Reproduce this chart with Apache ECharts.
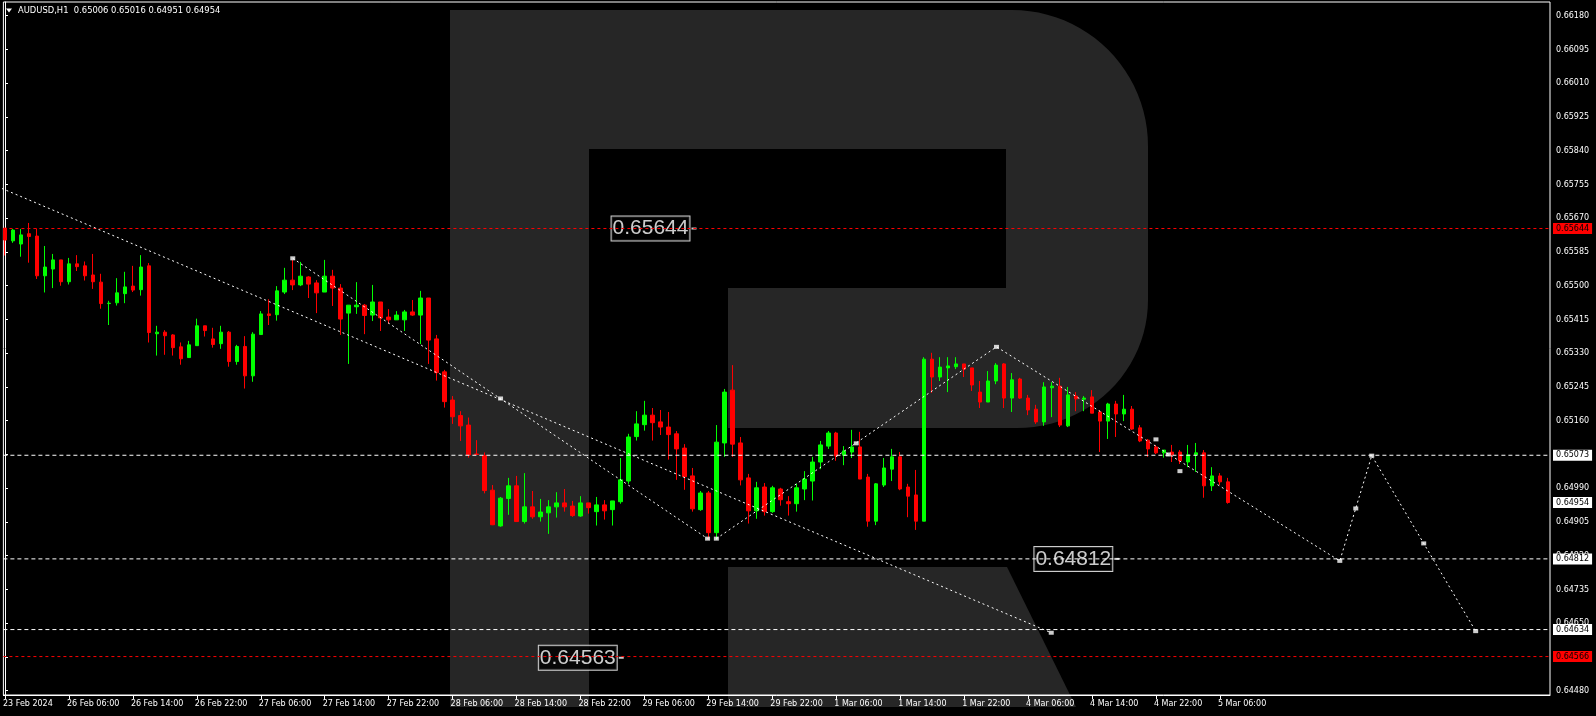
<!DOCTYPE html>
<html><head><meta charset="utf-8">
<script src="https://cdn.jsdelivr.net/npm/echarts@6/dist/echarts.min.js"></script>
<style>html,body{margin:0;padding:0;background:#000;}#c{width:1596px;height:716px;}</style>
</head><body><div id="c"></div>
<script>
const titleText = 'AUDUSD,H1  0.65006 0.65016 0.64951 0.64954';

const openP = [0.65645,0.65613,0.65605,0.65631,0.65625,0.65525,0.65542,0.65565,0.65510,0.65555,
0.65550,0.65527,0.65509,0.65455,0.65457,0.65480,0.65499,0.65490,0.65550,0.65379,
0.65383,0.65376,0.65346,0.65319,0.65349,0.65399,0.65366,0.65354,0.65383,0.65309,
0.65347,0.65273,0.65377,0.65429,0.65427,0.65484,0.65514,0.65502,0.65522,0.65507,
0.65484,0.65524,0.65494,0.65431,0.65447,0.65451,0.65426,0.65459,0.65421,0.65414,
0.65414,0.65434,0.65426,0.65469,0.65366,0.65283,0.65212,0.65173,0.65149,0.65076,
0.65072,0.64985,0.64895,0.64964,0.64996,0.64906,0.64943,0.64918,0.64928,0.64943,
0.64953,0.64945,0.64920,0.64953,0.64931,0.64948,0.64936,0.64956,0.65008,0.65120,
0.65150,0.65174,0.65157,0.65144,0.65127,0.65091,0.65021,0.64936,0.64978,0.64878,
0.65104,0.65237,0.65104,0.65016,0.64933,0.64993,0.64931,0.64988,0.64956,0.64951,
0.64988,0.65008,0.65056,0.65096,0.65129,0.65073,0.65081,0.65094,0.65018,0.64907,
0.64998,0.65038,0.65069,0.64993,0.64973,0.64907,0.65315,0.65270,0.65293,0.65296,
0.65303,0.65293,0.65232,0.65207,0.65260,0.65303,0.65217,0.65265,0.65217,0.65189,
0.65157,0.65243,0.65247,0.65147,0.65222,0.65214,0.65220,0.65182,0.65159,0.65202,
0.65177,0.65189,0.65142,0.65111,0.65094,0.65079,0.65081,0.65081,0.65056,0.65074,
0.65079,0.64996,0.65021,0.65006];
const highP = [0.65645,0.65643,0.65643,0.65658,0.65644,0.65600,0.65580,0.65565,0.65570,0.65577,
0.65561,0.65580,0.65530,0.65462,0.65519,0.65535,0.65550,0.65577,0.65557,0.65399,
0.65388,0.65378,0.65357,0.65361,0.65417,0.65399,0.65394,0.65399,0.65386,0.65351,
0.65373,0.65383,0.65436,0.65466,0.65499,0.65545,0.65565,0.65560,0.65524,0.65514,
0.65565,0.65540,0.65504,0.65451,0.65509,0.65454,0.65502,0.65459,0.65441,0.65436,
0.65439,0.65464,0.65487,0.65469,0.65376,0.65288,0.65222,0.65184,0.65168,0.65111,
0.65080,0.64998,0.64968,0.65016,0.65021,0.65028,0.64983,0.64963,0.64960,0.64980,
0.64988,0.64958,0.64970,0.64953,0.64968,0.64960,0.64958,0.65066,0.65127,0.65184,
0.65210,0.65192,0.65187,0.65182,0.65134,0.65101,0.65041,0.64983,0.64983,0.65149,
0.65240,0.65300,0.65119,0.65026,0.65006,0.65003,0.64996,0.64991,0.64970,0.65001,
0.65033,0.65069,0.65109,0.65134,0.65132,0.65096,0.65137,0.65132,0.65026,0.65003,
0.65066,0.65089,0.65081,0.65001,0.65036,0.65320,0.65331,0.65320,0.65320,0.65320,
0.65303,0.65293,0.65260,0.65285,0.65305,0.65305,0.65280,0.65268,0.65225,0.65200,
0.65257,0.65257,0.65268,0.65245,0.65232,0.65222,0.65237,0.65187,0.65205,0.65210,
0.65225,0.65197,0.65149,0.65114,0.65099,0.65086,0.65099,0.65086,0.65099,0.65104,
0.65086,0.65043,0.65028,0.65016];
const lowP = [0.65576,0.65608,0.65573,0.65558,0.65517,0.65483,0.65494,0.65500,0.65503,0.65537,
0.65513,0.65492,0.65442,0.65401,0.65450,0.65456,0.65484,0.65475,0.65357,0.65324,
0.65326,0.65324,0.65301,0.65319,0.65349,0.65372,0.65344,0.65341,0.65296,0.65301,
0.65241,0.65258,0.65377,0.65401,0.65412,0.65479,0.65489,0.65499,0.65469,0.65431,
0.65484,0.65449,0.65376,0.65303,0.65429,0.65378,0.65411,0.65386,0.65404,0.65414,
0.65386,0.65424,0.65353,0.65303,0.65261,0.65193,0.65152,0.65109,0.65067,0.65074,
0.64977,0.64897,0.64893,0.64923,0.64906,0.64901,0.64913,0.64906,0.64875,0.64916,
0.64931,0.64918,0.64918,0.64926,0.64896,0.64911,0.64896,0.64951,0.65001,0.65110,
0.65135,0.65110,0.65124,0.65062,0.65011,0.64986,0.64931,0.64933,0.64860,0.64860,
0.65069,0.65069,0.64997,0.64901,0.64913,0.64921,0.64928,0.64946,0.64921,0.64931,
0.64960,0.64959,0.65038,0.65089,0.65059,0.65048,0.65066,0.65013,0.64893,0.64897,
0.64993,0.65008,0.64985,0.64917,0.64885,0.64907,0.65230,0.65260,0.65232,0.65290,
0.65270,0.65235,0.65192,0.65207,0.65252,0.65192,0.65182,0.65215,0.65174,0.65152,
0.65147,0.65169,0.65144,0.65144,0.65184,0.65184,0.65179,0.65081,0.65114,0.65119,
0.65159,0.65137,0.65106,0.65069,0.65076,0.65067,0.65056,0.65051,0.65043,0.65031,
0.64966,0.64983,0.64998,0.64951];
const closeP = [0.65615,0.65640,0.65628,0.65624,0.65525,0.65547,0.65565,0.65510,0.65555,0.65548,
0.65525,0.65510,0.65455,0.65456,0.65482,0.65497,0.65489,0.65547,0.65382,0.65383,
0.65374,0.65344,0.65316,0.65351,0.65399,0.65387,0.65352,0.65383,0.65309,0.65347,
0.65273,0.65378,0.65429,0.65425,0.65487,0.65514,0.65502,0.65524,0.65504,0.65482,
0.65524,0.65494,0.65416,0.65451,0.65451,0.65425,0.65459,0.65419,0.65414,0.65426,
0.65434,0.65426,0.65469,0.65363,0.65281,0.65208,0.65170,0.65147,0.65074,0.65075,
0.64984,0.64898,0.64965,0.64996,0.64906,0.64943,0.64918,0.64930,0.64943,0.64953,
0.64943,0.64921,0.64953,0.64941,0.64948,0.64933,0.64958,0.65011,0.65119,0.65152,
0.65174,0.65155,0.65144,0.65125,0.65089,0.65019,0.64938,0.64978,0.64878,0.65106,
0.65232,0.65101,0.65011,0.64933,0.64991,0.64931,0.64991,0.64961,0.64951,0.64991,
0.65013,0.65056,0.65099,0.65129,0.65071,0.65084,0.65094,0.65013,0.64907,0.65001,
0.65041,0.65069,0.64988,0.64970,0.64907,0.65315,0.65270,0.65295,0.65298,0.65303,
0.65290,0.65250,0.65207,0.65260,0.65300,0.65217,0.65263,0.65217,0.65187,0.65157,
0.65245,0.65247,0.65149,0.65225,0.65215,0.65217,0.65179,0.65159,0.65202,0.65177,
0.65189,0.65139,0.65109,0.65089,0.65079,0.65086,0.65074,0.65059,0.65074,0.65079,
0.64996,0.65021,0.65006,0.64954];

const xTickBars = [0,8,16,24,32,40,48,56,64,72,80,88,96,104,112,120,128,136,144,152];
const xTickLabels = ['23 Feb 2024','26 Feb 06:00','26 Feb 14:00','26 Feb 22:00','27 Feb 06:00','27 Feb 14:00','27 Feb 22:00','28 Feb 06:00','28 Feb 14:00','28 Feb 22:00','29 Feb 06:00','29 Feb 14:00','29 Feb 22:00','1 Mar 06:00','1 Mar 14:00','1 Mar 22:00','4 Mar 06:00','4 Mar 14:00','4 Mar 22:00','5 Mar 06:00'];
const yTickValues = [0.64480,0.64565,0.64650,0.64735,0.64820,0.64905,0.64990,0.65075,0.65160,0.65245,0.65330,0.65415,0.65500,0.65585,0.65670,0.65755,0.65840,0.65925,0.66010,0.66095,0.66180];

const redLevels = [0.65644, 0.64566];
const whiteLevels = [0.65073, 0.64812, 0.64634];
const currentPrice = 0.64954;

const trendA = [[36.0,0.65569],[87.9,0.64863]];
const trendB = [[-0.4,0.65745],[130.9,0.64626]];
const zigzag = [[89.0,0.64863],[124.05,0.65346],[167.0,0.64807],[171.0,0.65072],[184.0,0.64630]];
const arrowMarks = [[36.0,0.65569],[62.0,0.65216],[87.9,0.64863],[89.0,0.64863],[106.5,0.65103],[124.05,0.65346],[144.0,0.65113],[145.55,0.65075],[147.0,0.65033],[130.9,0.64626],[167.0,0.64807],[169.0,0.64939],[171.0,0.65072],[177.5,0.64851],[184.0,0.64630]];
const boxBars = [86.2, 139.1, 77.1];
const boxPrices = [0.65644, 0.64812, 0.64563];

const X_MIN = -0.2, X_MAX = 193.3;
const bars = openP.map((o, i) => [i, o, closeP[i], lowP[i], highP[i]]);

// watermark geometry (decorative)
function arcPts(cx, cy, rx, ry, a0, a1, n) {
  const pts = [];
  for (let k = 1; k < n; k++) {
    const a = (a0 + (a1 - a0) * k / n) * Math.PI / 180;
    pts.push([cx + rx * Math.cos(a), cy + ry * Math.sin(a)]);
  }
  return pts;
}
const rBody = [[450,10],[1012,10]].concat(arcPts(1012,146,136,136,-90,0,24))
  .concat([[1148,146],[1148,300]]).concat(arcPts(1017,300,131,128,0,90,24))
  .concat([[1017,428],[728,428],[728,288],[1006,288],[1006,149],[589,149],[589,707],[450,707]]);
const rLeg = [[728,567],[1007,567],[1076,707],[728,707]];

const FONT = 'DejaVu Sans';

function levelSeries(v, color, dash, tagBg, showLine) {
  return {
    type: 'line', data: [[X_MIN, v], [X_MAX, v]], symbol: 'none', silent: true, clip: false,
    lineStyle: {color: color, width: 1, type: dash, opacity: showLine ? 1 : 0},
    endLabel: {
      show: true, distance: 3,
      formatter: () => v.toFixed(5),
      color: '#000', backgroundColor: tagBg, fontFamily: FONT, fontSize: 8,
      padding: [2, 3, 1, 3]
    }
  };
}

const series = [];
redLevels.forEach(v => series.push(levelSeries(v, '#ff0000', [3, 3], '#ff0000', true)));
whiteLevels.forEach(v => series.push(levelSeries(v, '#ffffff', [4, 3], '#ffffff', true)));
series.push(levelSeries(currentPrice, '#ffffff', 'solid', '#ffffff', false));
series.push(
  {type: 'line', data: trendB, symbol: 'none', clip: true, silent: true, lineStyle: {color: '#fff', width: 1, type: [2, 3]}},
  {type: 'line', data: trendA, symbol: 'none', clip: true, silent: true, lineStyle: {color: '#fff', width: 1, type: [2, 3]}},
  {type: 'line', data: zigzag, symbol: 'none', clip: true, silent: true, lineStyle: {color: '#fff', width: 1, type: [2, 3]}},
  {
    type: 'candlestick', data: bars, barWidth: 4, clip: true, silent: true,
    itemStyle: {color: '#00ff00', color0: '#ff0000', borderColor: '#00ff00', borderColor0: '#ff0000', borderColorDoji: '#00ff00', borderWidth: 1}
  },
  {type: 'scatter', data: arrowMarks, symbol: 'rect', symbolSize: [5, 4], silent: true, itemStyle: {color: '#fff'}},
  {
    type: 'scatter', silent: true, clip: false,
    data: boxBars.map((b, i) => ({value: [b, boxPrices[i]]})),
    symbol: 'rect', symbolSize: [5, 2], itemStyle: {color: '#fff'},
    label: {
      show: true, position: 'left', distance: 2,
      formatter: p => p.value[1].toFixed(5),
      color: '#fff', backgroundColor: '#000', borderColor: '#fff', borderWidth: 1,
      fontFamily: "'Liberation Sans Narrow', 'Liberation Sans'", fontSize: 21,
      lineHeight: 21, padding: [2, 1, 1, 1]
    }
  }
);

const chart = echarts.init(document.getElementById('c'), null, {renderer: 'canvas'});
chart.setOption({
  backgroundColor: '#000',
  animation: false,
  graphic: {
    elements: [
      {type: 'polygon', z: -5, shape: {points: rBody}, style: {fill: '#262626'}},
      {type: 'polygon', z: -5, shape: {points: rLeg}, style: {fill: '#262626'}},
      {type: 'polygon', z: 5, shape: {points: [[6,8.5],[12,8.5],[9,12.5]]}, style: {fill: '#fff'}},
      {type: 'text', z: 5, x: 18, y: 11, style: {text: titleText, fill: '#fff', font: '8.4px "DejaVu Sans"', verticalAlign: 'middle'}}
    ]
  },
  grid: {left: 2, right: 46, top: 2, bottom: 21, show: true, borderColor: '#fff', borderWidth: 1, backgroundColor: 'transparent'},
  xAxis: {
    type: 'value', min: X_MIN, max: X_MAX, position: 'bottom',
    splitLine: {show: false},
    axisLine: {show: true, lineStyle: {color: '#fff', width: 1}},
    axisTick: {show: true, customValues: xTickBars, length: 4, lineStyle: {color: '#fff'}},
    axisLabel: {
      show: true, customValues: xTickBars,
      formatter: v => xTickLabels[xTickBars.indexOf(Math.round(v))] || '',
      color: '#fff', fontFamily: FONT, fontSize: 8, align: 'left', margin: 5, padding: [0, 0, 0, -2]
    }
  },
  yAxis: {
    type: 'value', position: 'right', min: 0.644692, max: 0.662145, scale: true,
    splitLine: {show: false},
    axisLine: {show: true, lineStyle: {color: '#fff', width: 1}},
    axisTick: {show: true, customValues: yTickValues, length: 3, lineStyle: {color: '#fff'}},
    axisLabel: {
      show: true, customValues: yTickValues,
      formatter: v => v.toFixed(5),
      color: '#fff', fontFamily: FONT, fontSize: 8, margin: 6
    }
  },
  series: series
});
</script></body></html>
